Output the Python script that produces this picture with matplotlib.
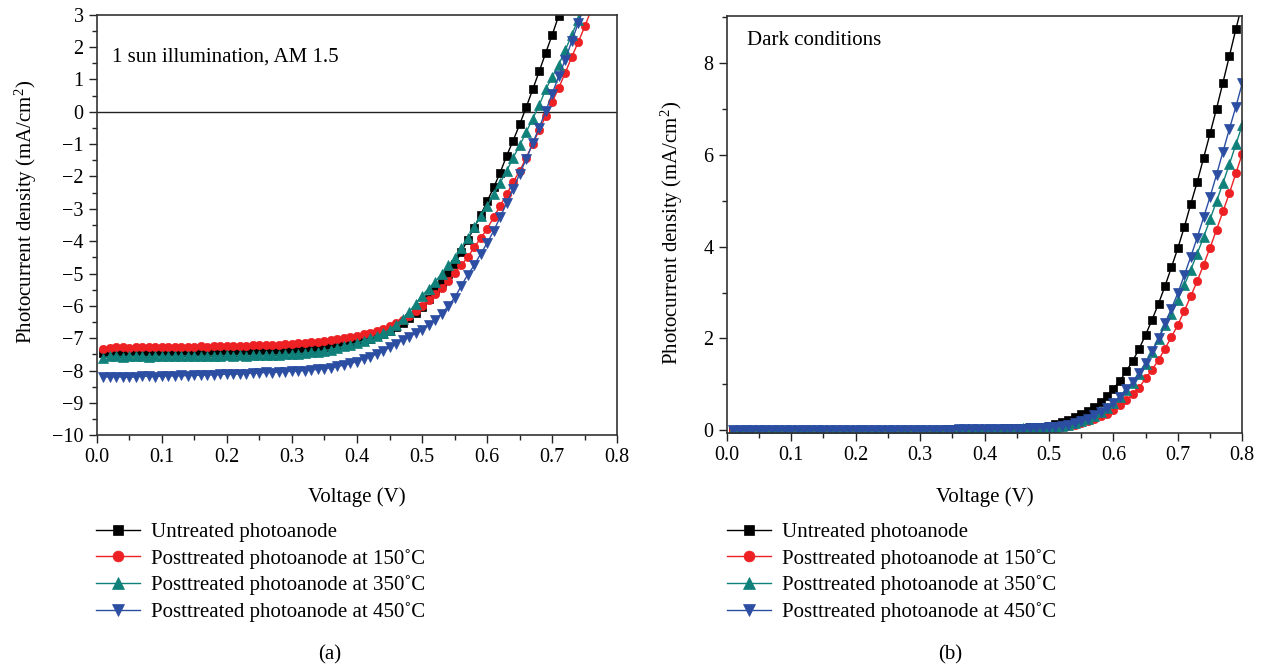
import numpy as np
from matplotlib import pyplot as plt
from matplotlib.ticker import MultipleLocator

plt.rcParams['font.family'] = ['Liberation Serif', 'DejaVu Serif']
plt.rcParams['mathtext.fontset'] = 'custom'
plt.rcParams['mathtext.rm'] = 'Liberation Serif'
plt.rcParams['mathtext.it'] = 'Liberation Serif:italic'

# voltage sweep, 10 mV steps
v_light = np.round(np.arange(0.01, 0.765, 0.01), 2)
v_dark = np.round(np.arange(0.01, 0.805, 0.01), 2)

labels = ["Untreated photoanode",
          "Posttreated photoanode at 150\u02daC",
          "Posttreated photoanode at 350\u02daC",
          "Posttreated photoanode at 450\u02daC"]
colors = ['#000000', '#ed2024', '#10807a', '#2b4ea2']
markers = ['s', 'o', '^', 'v']
msizes = [5.5, 6, 6.5, 6.5]

# (a) 1 sun illumination, mA/cm2
light_untreated = [
    -7.45, -7.44, -7.43, -7.45, -7.44, -7.43, -7.44, -7.45, -7.43, -7.44,
    -7.43, -7.44, -7.42, -7.43, -7.44, -7.42, -7.43, -7.42, -7.43, -7.42,
    -7.41, -7.42, -7.40, -7.41, -7.40, -7.39, -7.40, -7.38, -7.37, -7.36,
    -7.35, -7.34, -7.32, -7.30, -7.28, -7.26, -7.23, -7.20, -7.16, -7.12,
    -7.07, -7.01, -6.94, -6.86, -6.77, -6.66, -6.53, -6.38, -6.21, -6.02,
    -5.78, -5.52, -5.29, -5.02, -4.72, -4.34, -3.97, -3.58, -3.19, -2.77,
    -2.34, -1.88, -1.36, -0.89, -0.39, 0.14, 0.69, 1.25, 1.82, 2.38,
    2.97, 3.55, 4.10, 4.70, 5.30, 5.90]
light_150 = [
    -7.33, -7.30, -7.28, -7.27, -7.29, -7.28, -7.27, -7.26, -7.28, -7.27,
    -7.27, -7.26, -7.26, -7.27, -7.28, -7.25, -7.26, -7.24, -7.25, -7.24,
    -7.25, -7.23, -7.24, -7.22, -7.22, -7.21, -7.20, -7.20, -7.18, -7.17,
    -7.16, -7.15, -7.13, -7.11, -7.09, -7.06, -7.03, -7.00, -6.96, -6.92,
    -6.88, -6.83, -6.77, -6.70, -6.62, -6.53, -6.43, -6.31, -6.17, -6.01,
    -5.83, -5.64, -5.44, -5.23, -4.98, -4.75, -4.50, -4.19, -3.91, -3.62,
    -3.26, -2.91, -2.55, -2.17, -1.83, -1.42, -1.00, -0.56, -0.13, 0.30,
    0.74, 1.20, 1.70, 2.15, 2.64, 3.15]
light_350 = [
    -7.60, -7.56, -7.55, -7.57, -7.56, -7.55, -7.56, -7.57, -7.55, -7.56,
    -7.55, -7.56, -7.55, -7.54, -7.55, -7.56, -7.54, -7.55, -7.54, -7.53,
    -7.54, -7.53, -7.54, -7.53, -7.52, -7.53, -7.51, -7.52, -7.50, -7.49,
    -7.48, -7.46, -7.44, -7.42, -7.38, -7.35, -7.30, -7.25, -7.20, -7.15,
    -7.08, -7.00, -6.93, -6.85, -6.74, -6.58, -6.40, -6.18, -5.94, -5.68,
    -5.47, -5.25, -5.01, -4.75, -4.53, -4.22, -3.91, -3.57, -3.23, -2.91,
    -2.55, -2.19, -1.83, -1.42, -1.04, -0.63, -0.21, 0.20, 0.69, 1.08,
    1.46, 1.90, 2.38, 2.85, 3.30, 3.80]
light_450 = [
    -8.19, -8.20, -8.19, -8.20, -8.21, -8.19, -8.17, -8.18, -8.19, -8.17,
    -8.16, -8.17, -8.15, -8.16, -8.14, -8.15, -8.13, -8.14, -8.12, -8.11,
    -8.12, -8.10, -8.09, -8.07, -8.08, -8.05, -8.06, -8.04, -8.03, -8.02,
    -8.01, -8.00, -7.98, -7.96, -7.94, -7.91, -7.87, -7.83, -7.78, -7.72,
    -7.63, -7.57, -7.49, -7.40, -7.28, -7.17, -7.05, -6.95, -6.85, -6.74,
    -6.60, -6.43, -6.24, -6.01, -5.75, -5.39, -5.04, -4.75, -4.39, -4.06,
    -3.68, -3.26, -2.82, -2.39, -1.91, -1.47, -0.97, -0.49, 0.02, 0.56,
    1.10, 1.61, 2.18, 2.74, 3.30, 3.85]

# (b) dark conditions, mA/cm2
dark_untreated = [
    0.00, 0.00, 0.00, 0.00, 0.00, 0.00, 0.00, 0.00, 0.00, 0.00,
    0.00, 0.00, 0.00, 0.00, 0.00, 0.00, 0.00, 0.00, 0.00, 0.00,
    0.00, 0.00, 0.00, 0.01, 0.01, 0.01, 0.01, 0.01, 0.01, 0.01,
    0.01, 0.01, 0.01, 0.02, 0.02, 0.02, 0.02, 0.02, 0.03, 0.03,
    0.03, 0.03, 0.04, 0.04, 0.05, 0.05, 0.06, 0.07, 0.08, 0.10,
    0.13, 0.17, 0.22, 0.28, 0.35, 0.41, 0.51, 0.62, 0.74, 0.91,
    1.07, 1.29, 1.51, 1.78, 2.08, 2.41, 2.76, 3.14, 3.55, 3.97,
    4.43, 4.93, 5.41, 5.94, 6.47, 7.01, 7.58, 8.16, 8.74, 9.30]
dark_150 = [
    0.00, 0.00, 0.00, 0.00, 0.00, 0.00, 0.00, 0.00, 0.00, 0.00,
    0.00, 0.00, 0.00, 0.00, 0.00, 0.00, 0.00, 0.00, 0.00, 0.00,
    0.00, 0.00, 0.00, 0.00, 0.00, 0.00, 0.00, 0.01, 0.01, 0.01,
    0.01, 0.01, 0.01, 0.01, 0.01, 0.01, 0.02, 0.02, 0.02, 0.02,
    0.02, 0.02, 0.03, 0.03, 0.03, 0.03, 0.03, 0.04, 0.04, 0.05,
    0.06, 0.07, 0.09, 0.12, 0.16, 0.20, 0.25, 0.31, 0.36, 0.45,
    0.54, 0.65, 0.78, 0.93, 1.13, 1.32, 1.53, 1.78, 2.03, 2.30,
    2.60, 2.92, 3.25, 3.61, 3.98, 4.37, 4.77, 5.17, 5.60, 6.03]
dark_350 = [
    0.00, 0.00, 0.00, 0.00, 0.00, 0.00, 0.00, 0.00, 0.00, 0.00,
    0.00, 0.00, 0.00, 0.00, 0.00, 0.00, 0.00, 0.00, 0.00, 0.00,
    0.00, 0.00, 0.00, 0.00, 0.00, 0.01, 0.01, 0.01, 0.01, 0.01,
    0.01, 0.01, 0.01, 0.01, 0.01, 0.02, 0.02, 0.02, 0.02, 0.02,
    0.02, 0.03, 0.03, 0.03, 0.03, 0.04, 0.04, 0.04, 0.05, 0.06,
    0.07, 0.09, 0.12, 0.16, 0.20, 0.25, 0.32, 0.40, 0.48, 0.59,
    0.72, 0.87, 1.03, 1.23, 1.45, 1.70, 1.98, 2.29, 2.54, 2.85,
    3.16, 3.50, 3.85, 4.21, 4.60, 4.99, 5.39, 5.80, 6.23, 6.66]
dark_450 = [
    0.00, 0.00, 0.00, 0.00, 0.00, 0.00, 0.00, 0.00, 0.00, 0.00,
    0.00, 0.00, 0.00, 0.00, 0.00, 0.00, 0.00, 0.00, 0.00, 0.00,
    0.00, 0.00, 0.00, 0.00, 0.00, 0.01, 0.01, 0.01, 0.01, 0.01,
    0.01, 0.01, 0.01, 0.01, 0.01, 0.02, 0.02, 0.02, 0.02, 0.02,
    0.02, 0.03, 0.03, 0.03, 0.03, 0.03, 0.04, 0.04, 0.05, 0.06,
    0.07, 0.09, 0.11, 0.16, 0.20, 0.25, 0.33, 0.40, 0.49, 0.60,
    0.73, 0.89, 1.05, 1.25, 1.47, 1.72, 2.00, 2.33, 2.65, 2.99,
    3.38, 3.78, 4.20, 4.64, 5.09, 5.57, 6.07, 6.57, 7.05, 7.57]

light = [light_untreated, light_150, light_350, light_450]
dark = [dark_untreated, dark_150, dark_350, dark_450]

fig = plt.figure(figsize=(12.62, 6.67), dpi=100)
ax1 = fig.add_axes([96.7 / 1262, 1 - 435.3 / 667, 520.6 / 1262, 420.6 / 667])
ax2 = fig.add_axes([726.7 / 1262, 1 - 433 / 667, 515.6 / 1262, 417 / 667])

for ax, x, series in [(ax1, v_light, light), (ax2, v_dark, dark)]:
    for y, c, m, ms, lab in zip(series, colors, markers, msizes, labels):
        ax.plot(x, y, color=c, marker=m, markersize=ms, linewidth=1,
                markeredgewidth=0.5, markeredgecolor=c, label=lab)

ax1.axhline(0, color='#222222', linewidth=1, zorder=0)
ax1.set_xlim(0, 0.8)
ax1.set_ylim(-10, 3)
ax1.yaxis.set_major_locator(MultipleLocator(1))
ax1.yaxis.set_minor_locator(MultipleLocator(0.5))
ax1.text(0.03, 0.899, "1 sun illumination, AM 1.5", transform=ax1.transAxes,
         fontsize=15, va='center', ha='left')

ax2.set_xlim(0, 0.8)
ax2.set_ylim(-0.06, 9.03)
ax2.yaxis.set_major_locator(MultipleLocator(2))
ax2.yaxis.set_minor_locator(MultipleLocator(1))
ax2.text(0.04, 0.942, "Dark conditions", transform=ax2.transAxes,
         fontsize=15, va='center', ha='left')

for ax in (ax1, ax2):
    ax.xaxis.set_major_locator(MultipleLocator(0.1))
    ax.xaxis.set_minor_locator(MultipleLocator(0.05))
    ax.xaxis.set_major_formatter(plt.FormatStrFormatter('%.1f'))
    ax.tick_params(which='both', direction='out', top=False, right=False,
                   labelsize=14.5, width=1, color='#222222')
    ax.tick_params(which='major', length=6)
    ax.tick_params(which='minor', length=3.5)
    for s in ax.spines.values():
        s.set_color('#333333')
        s.set_linewidth(1.2)
    ax.set_xlabel("Voltage (V)", fontsize=15)
    ax.set_ylabel("Photocurrent density (mA/cm$^2$)", fontsize=15)

ax1.xaxis.set_label_coords(0.5, -0.123)
ax1.yaxis.set_label_coords(-0.11, 0.53)
ax2.xaxis.set_label_coords(0.5, -0.129)
ax2.yaxis.set_label_coords(-0.08, 0.48)

for ax, x0, cap, cx in [(ax1, 96, "(a)", 330), (ax2, 727, "(b)", 950)]:
    h, l = ax.get_legend_handles_labels()
    fig.legend(h, l, loc='upper left', bbox_to_anchor=(x0 / 1262, 1 - 522.5 / 667),
               bbox_transform=fig.transFigure, frameon=False, fontsize=15,
               numpoints=1, markerscale=1.3, handlelength=2.1, handletextpad=0.55,
               labelspacing=0.32, borderpad=0, borderaxespad=0)
    fig.text(cx / 1262, 1 - 655 / 667, cap, fontsize=15, ha='center', va='center')

plt.savefig("out.png", dpi=100)
